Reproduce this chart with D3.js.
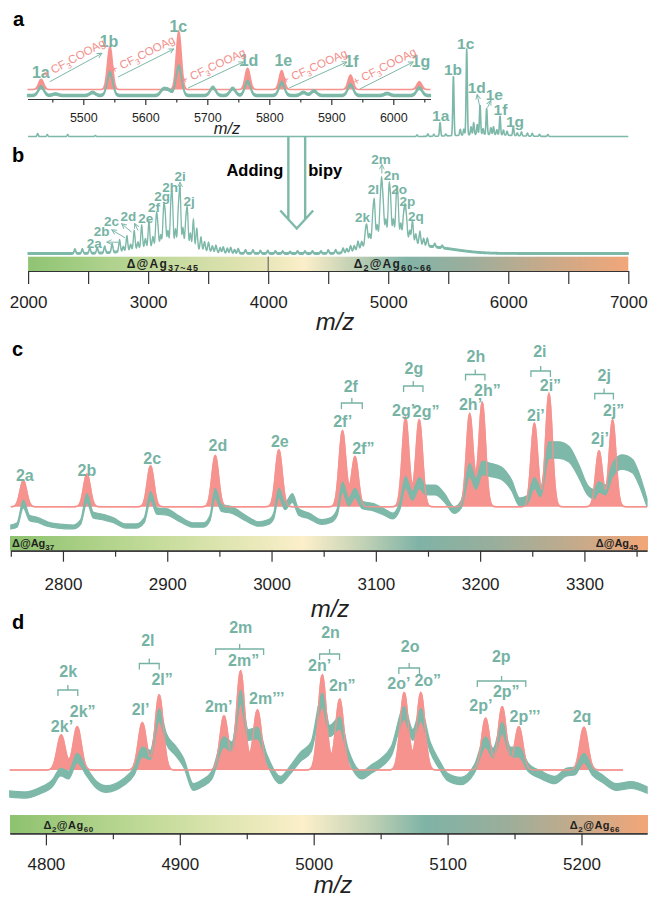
<!DOCTYPE html>
<html>
<head>
<meta charset="utf-8">
<script src="https://cdn.jsdelivr.net/npm/d3@7/dist/d3.min.js"></script>
<style>
  body { margin: 0; background: #fff; }
  svg { display: block; font-family: "Liberation Sans", Arial, sans-serif; }
</style>
</head>
<body>
<svg id="fig" width="649" height="898"></svg>
<script>
// ---- panel a, inset (m/z 5410-6060) : [m/z, height]
const INSET_RED = [[5432, 10.2], [5543, 42.8], [5654, 57.8], [5765, 21.2], [5820, 18.8], [5931, 14.5], [6042, 7.8]];
const INSET_TEAL = [[5432, 8.5], [5455, 1.5], [5515, 3], [5543, 22.5], [5629, 6], [5638, 5], [5654, 28.8], [5709, 8],
  [5741, 7], [5765, 13.8], [5820, 12.5], [5855, 3], [5872, 4.5], [5931, 10.5], [5990, 2], [6042, 7.5]];
const INSET_LABELS = [['1a', 5431.5, 11.5], ['1b', 5541.5, 42.3], ['1c', 5653.2, 57.3], ['1d', 5767.3, 23.2],
  ['1e', 5822.6, 23.2], ['1f', 5932.6, 22.3], ['1g', 6044.4, 22.3]];
// arrows: [from m/z, from h, to m/z, to h]
const INSET_ARROWS = [[5446, 7.8, 5530, 36.2], [5556, 12.5, 5646, 40.5], [5669, 1.5, 5758, 27.5],
  [5832, 1.5, 5925, 27.5], [5946, 0.5, 6032, 27.5]];
const INSET_MAJOR = [5500, 5600, 5700, 5800, 5900, 6000];
const INSET_MINOR = [5450, 5550, 5650, 5750, 5850, 5950, 6050];

// ---- panel a, full spectrum (shares the b axis)
const MAIN_A_PEAKS = [[2080, 3], [2160, 2], [2330, 2], [2560, 1], [5240, 1.5], [5330, 2.5], [5380, 2], [5432, 13.5],
  [5480, 2], [5543, 60], [5600, 6], [5630, 6], [5654, 86], [5690, 8], [5712, 12], [5742, 10], [5765, 29.5],
  [5790, 6], [5820, 26], [5855, 7], [5877, 8], [5905, 5], [5931, 19], [5960, 5], [5990, 4], [6042, 9],
  [6075, 3], [6110, 4], [6160, 3], [6200, 3], [6260, 2], [6330, 2], [5800, 2, 200]];
const MAIN_A_LABELS = [['1a', 5437, 15.5], ['1b', 5540, 62], ['1c', 5645, 88], ['1d', 5737, 44],
  ['1e', 5884, 36.5], ['1f', 5935, 21.5], ['1g', 6056, 9.7]];
const MAIN_A_ARROWS = [[5766, 28, 5741, 42], [5827, 29, 5855, 36]];

// ---- panel b (m/z 2000-7000)
const B_PEAKS = [[2390, 4], [2452, 4], [2514, 5], [2576, 5], [2638, 6], [2700, 8], [2762, 11], [2793, 4], [2823, 14],
  [2854, 5], [2884, 18], [2915, 6], [2946, 22], [2977, 8], [3007, 25], [3040, 9], [3068, 27], [3080, 18], [3105, 10],
  [3129, 34], [3142, 28], [3165, 14], [3190, 38], [3202, 40], [3228, 16], [3252, 34], [3266, 54], [3290, 18],
  [3314, 24], [3327, 34], [3352, 14], [3377, 28], [3405, 20], [3440, 12], [3470, 8], [3503, 8], [3535, 5],
  [3565, 6], [3600, 4], [3626, 5], [3660, 4], [3688, 5], [3720, 3], [3750, 4], [3811, 3], [3873, 3], [3935, 2.5],
  [3997, 2.5], [4060, 2], [4121, 2], [4183, 1.5], [4245, 2], [4307, 2], [4369, 2], [4440, 2], [4500, 3],
  [4562, 3], [4624, 4], [4655, 3], [4686, 5], [4717, 4], [4748, 7], [4779, 5], [4811, 13], [4823, 15], [4845, 8],
  [4872, 24], [4885, 34], [4908, 12], [4933, 26], [4945, 46], [4958, 28], [4980, 14], [5006, 42], [5019, 32],
  [5043, 14], [5068, 34], [5080, 34], [5105, 12], [5128, 20], [5141, 26], [5153, 16], [5180, 9], [5202, 20],
  [5230, 8], [5264, 12], [5295, 6], [5326, 7], [5388, 3], [5450, 2],
  [3150, 8, 230], [5000, 18, 150], [5350, 6, 220]];
const B_LABELS = [['2a', 2551, 5.7], ['2b', 2612, 17.2], ['2c', 2695, 27.2], ['2d', 2835, 33], ['2e', 2981, 30.7],
  ['2f', 3049, 41.3], ['2g', 3116, 53], ['2h', 3183, 61.3], ['2i', 3266, 72.2], ['2j', 3342, 47.2],
  ['2k', 4785, 31.3], ['2l', 4877, 60], ['2m', 4939, 90], ['2n', 5028, 74], ['2o', 5091, 60],
  ['2p', 5160, 47.2], ['2q', 5231, 32.2]];
const B_ARROWS = [[2752, 11.3, 2655, 11.3], [2807, 15.7, 2697, 23.7], [2863, 21.3, 2780, 29.7],
  [2916, 23, 2887, 30], [3266, 63, 3266, 71.3], [4947, 80, 4947, 89]];
const B_TICKS = [2000, 2500, 3000, 3500, 4000, 4500, 5000, 5500, 6000, 6500, 7000];
const B_LABELLED = [2000, 3000, 4000, 5000, 6000, 7000];

// ---- panel c (m/z 2750-3360)
const C_RED = [[2762, 26], [2823, 32.7], [2884, 40.7], [2946, 51], [3007, 56.7], [3068, 75.7], [3080, 50],
  [3128.5, 89], [3141.6, 86.7], [3190, 92.7], [3202, 104], [3252, 83.3], [3266, 112.7], [3314, 55.7], [3327, 86.7]];
const C_TEAL = [[2750, 3], [2756, 5], [2762, 26], [2768, 12], [2776, 10], [2785, 6], [2795, 4], [2810, 3], [2817, 8],
  [2823, 32], [2829, 15], [2838, 13], [2848, 10], [2860, 4], [2870, 4], [2878, 10], [2884, 34], [2890, 19],
  [2900, 18], [2912, 11], [2925, 5], [2935, 5], [2941, 12], [2946, 37], [2952, 22], [2962, 20], [2975, 12],
  [2988, 6], [2997, 8], [3002, 14], [3007, 37], [3013, 24], [3020, 32], [3026, 18], [3036, 14], [3048, 8],
  [3057, 10], [3063, 18], [3068, 43], [3074, 28], [3080, 37], [3087, 25], [3097, 23], [3108, 18], [3116, 14],
  [3123, 24], [3128.5, 48], [3135, 34], [3141.6, 47], [3148, 40], [3157, 40], [3166, 32], [3175, 20], [3182, 26],
  [3190, 60], [3196, 46], [3202, 62], [3210, 60], [3220, 57], [3230, 45], [3238, 28], [3245, 30], [3252, 47],
  [3258, 38], [3266, 80], [3275, 80], [3285, 76], [3295, 58], [3303, 40], [3309, 36], [3314, 43], [3320, 40],
  [3327, 60], [3336, 68], [3346, 64], [3352, 52], [3360, 27]];
const C_LABELS = [['2a', 2763.4, 26.2], ['2b', 2823, 31.2], ['2c', 2885.6, 42.9], ['2d', 2948.6, 56.2],
  ['2e', 3008, 59.5], ['2f', 3076, 114.5], ['2f\u2019', 3068.2, 79.5], ['2f\u201D', 3088, 52.9],
  ['2g', 3136.5, 132.9], ['2g\u2019', 3126.6, 91.2], ['2g\u201D', 3148.3, 89.5],
  ['2h', 3196, 144.5], ['2h\u2019', 3190.8, 97.2], ['2h\u201D', 3207, 111.2],
  ['2i', 3257.3, 149.5], ['2i\u2019', 3253.5, 86.2], ['2i\u201D', 3267.4, 116.2],
  ['2j', 3319, 126.2], ['2j\u2019', 3314.9, 62.9], ['2j\u201D', 3328, 91.2]];
const C_BRACKETS = [[3067, 3087, 103.7], [3126.6, 3145.2, 120.7], [3186, 3204.6, 132.2],
  [3248.7, 3267.4, 135.7], [3309.9, 3327.8, 113.2]];
const C_MAJOR = [2800, 2900, 3000, 3100, 3200, 3300];
const C_MINOR = [2750, 2850, 2950, 3050, 3150, 3250, 3350];

// ---- panel d (m/z 4773-5249)
const D_RED = [[4811.4, 35], [4823.4, 43.3], [4872, 47.3], [4884.6, 75], [4933, 54], [4945.4, 99], [4958, 60],
  [5006.4, 95], [5019.4, 70.7], [5067.6, 77.3], [5080, 77.3], [5128.4, 51.7], [5140.8, 63.3], [5153.2, 43.3],
  [5201.8, 42.7]];
const D_TEAL = [[4773, 3], [4785, 2], [4795, 6], [4805, 14], [4811, 25], [4817, 22], [4823.4, 39], [4830, 26],
  [4838, 12], [4845, 8], [4858, 15], [4866, 26], [4872, 45], [4878, 42], [4884.6, 82], [4890, 58], [4897, 46],
  [4903, 34], [4910, 10], [4917, 14], [4924, 22], [4933, 55], [4939, 50], [4945.4, 100], [4951, 62], [4958, 64],
  [4965, 38], [4975, 17], [4983, 28], [4990, 40], [4998, 50], [5006.4, 97], [5012, 66], [5019.4, 74], [5026, 42],
  [5036, 22], [5043, 28], [5050, 34], [5058, 46], [5067.6, 84], [5074, 62], [5080, 82], [5087, 50], [5094, 32],
  [5100, 20], [5110, 16], [5120, 28], [5128.4, 55], [5134, 44], [5140.8, 69], [5147, 45], [5153.2, 45],
  [5160, 30], [5170, 22], [5180, 17], [5189, 25], [5195, 26], [5201.8, 39], [5208, 26], [5216, 18], [5226, 10],
  [5237, 12], [5249, 7]];
const D_LABELS = [['2k', 4816.7, 93.5], ['2k\u2019', 4812, 37.8], ['2k\u201D', 4827.5, 52.8],
  ['2l', 4876.1, 123.8], ['2l\u2019', 4870.7, 55.2], ['2l\u201D', 4886.8, 85.2],
  ['2m', 4945.5, 137.2], ['2m\u201D', 4947.7, 104.5], ['2m\u2019', 4929.1, 57.8], ['2m\u2019\u2019\u2019', 4964.9, 66.2],
  ['2n', 5012.6, 131.8], ['2n\u2019', 5004.4, 99.5], ['2n\u201D', 5021.3, 79.5],
  ['2o', 5072, 117.8], ['2o\u2019', 5063.6, 81.2], ['2o\u201D', 5085.2, 83.8],
  ['2p', 5140.1, 107.8], ['2p\u2019', 5124.8, 59.5], ['2p\u201D', 5143.8, 72.8], ['2p\u2019\u2019\u2019', 5157.8, 47.8],
  ['2q', 5200.4, 47.8]];
const D_BRACKETS = [[4809, 4823.8, 80], [4869.8, 4884.6, 106.5], [4926.8, 4962.6, 121], [5004.4, 5019.3, 116],
  [5063.6, 5079, 102], [5122.2, 5158.4, 89]];
const D_MAJOR = [4800, 4900, 5000, 5100, 5200];
const D_MINOR = [4850, 4950, 5050, 5150];

const TEAL = '#7db8a9';
const TEAL_TXT = '#76b3a4';
const PINK = '#f6938f';
const PINK_TXT = '#f28e8a';
const INK = '#1f1f1f';

const svg = d3.select('#fig');
const defs = svg.append('defs');

defs.append('marker').attr('id', 'ah').attr('viewBox', '0 0 10 10')
  .attr('refX', 9).attr('refY', 5).attr('markerWidth', 6).attr('markerHeight', 6).attr('orient', 'auto')
  .append('path').attr('d', 'M1,1L9,5L1,9').attr('fill', 'none').attr('stroke', TEAL).attr('stroke-width', 1.6);

// gaussian sum over a peak list, sampled for drawing
function spectrum(peaks, sigma, lo, hi, step) {
  return d3.range(lo, hi + step / 2, step).map(m => [m, d3.sum(peaks, p => {
    const s = p[2] || sigma;
    return p[1] * Math.exp(-((m - p[0]) ** 2) / (2 * s * s));
  })]);
}

function redPeaks(pts, x, y) {
  svg.append('path').datum(pts).attr('fill', PINK)
    .attr('d', d3.area().x(d => x(d[0])).y0(y(0)).y1(d => y(d[1])));
  svg.append('path').datum(pts).attr('fill', 'none').attr('stroke', PINK).attr('stroke-width', 1.6)
    .attr('d', d3.line().x(d => x(d[0])).y(d => y(d[1])));
}

function tealBand(pts, x, y, thick, curve) {
  svg.append('path').datum(pts).attr('fill', TEAL).attr('stroke', TEAL).attr('stroke-width', 1.2)
    .attr('d', d3.area().curve(curve || d3.curveLinear).x(d => x(d[0]))
      .y0(d => y(d[1]) + thick(d[1]) / 2).y1(d => y(d[1]) - thick(d[1]) / 2));
}

function labels(list, x, y, size) {
  svg.append('g').selectAll('text').data(list).join('text')
    .attr('x', d => x(d[1])).attr('y', d => y(d[2])).attr('text-anchor', 'middle')
    .attr('font-size', size).attr('font-weight', 'bold').attr('fill', TEAL_TXT).text(d => d[0]);
}

function brackets(list, x, y) {
  svg.append('g').selectAll('path').data(list).join('path')
    .attr('fill', 'none').attr('stroke', TEAL_TXT).attr('stroke-width', 1.3)
    .attr('d', d => {
      const x1 = x(d[0]), x2 = x(d[1]), yb = y(d[2]), xm = (x1 + x2) / 2;
      return `M${x1},${yb + 6}V${yb}H${x2}V${yb + 6}M${xm},${yb}V${yb - 5}`;
    });
}

function arrows(list, x, y, width) {
  svg.append('g').selectAll('line').data(list).join('line')
    .attr('x1', d => x(d[0])).attr('y1', d => y(d[1])).attr('x2', d => x(d[2])).attr('y2', d => y(d[3]))
    .attr('stroke', TEAL).attr('stroke-width', width).attr('marker-end', 'url(#ah)');
}

function axis(x, y0, major, minor, majLen, minLen, labelY, size) {
  const gMin = svg.append('g').attr('transform', `translate(0,${y0})`)
    .call(d3.axisBottom(x).tickValues(minor).tickSize(minLen).tickSizeOuter(0).tickFormat(''));
  const gMaj = svg.append('g').attr('transform', `translate(0,${y0})`)
    .call(d3.axisBottom(x).tickValues(major).tickSize(majLen).tickSizeOuter(0).tickFormat(d3.format('d')));
  [gMin, gMaj].forEach(g => g.selectAll('line,path').attr('stroke', '#333').attr('stroke-width', 1.2));
  gMaj.selectAll('text').attr('y', labelY).attr('dy', null).attr('font-size', size)
    .attr('font-family', '"Liberation Sans", Arial, sans-serif').attr('fill', INK);
  return gMaj;
}

function rich(x, y, anchor, parts, size, subSize, fill, weight, spacing) {
  const t = svg.append('text').attr('x', x).attr('y', y).attr('text-anchor', anchor)
    .attr('font-size', size).attr('font-weight', weight).attr('fill', fill).attr('letter-spacing', spacing);
  let low = false;
  parts.forEach(([s, sub]) => {
    const dy = sub && !low ? 3 : (!sub && low ? -3 : 0);
    low = !!sub;
    t.append('tspan').attr('dy', dy).attr('font-size', sub ? subSize : size).text(s);
  });
  return t;
}

function gradient(id, stops) {
  const g = defs.append('linearGradient').attr('id', id).attr('x1', 0).attr('x2', 1).attr('y1', 0).attr('y2', 0);
  stops.forEach(([o, c]) => g.append('stop').attr('offset', o).attr('stop-color', c));
}

function panelLetter(ch, x, y) {
  svg.append('text').attr('x', x).attr('y', y).attr('font-size', 20).attr('font-weight', 'bold')
    .attr('fill', '#000').text(ch);
}

function mzTitle(x, y, size) {
  svg.append('text').attr('x', x).attr('y', y).attr('text-anchor', 'middle').attr('font-size', size)
    .attr('font-style', 'italic').attr('fill', INK).text('m/z');
}

// ================= panel a =================
const xi = d3.scaleLinear([5410, 6060], [27.5, 430.5]);
const yiRed = d3.scaleLinear([0, 60], [89.5, 29.5]);
const yiTeal = d3.scaleLinear([0, 60], [95.5, 35.5]);
const xb = d3.scaleLinear([2000, 7000], [28.1, 628.3]);
const ya = d3.scaleLinear([0, 100], [136.5, 36.5]);
const yb = d3.scaleLinear([0, 100], [253.5, 153.5]);

panelLetter('a', 13, 26);

redPeaks(spectrum(INSET_RED, 4, 5410, 6060, 1), xi, yiRed);
tealBand(spectrum(INSET_TEAL, 4.5, 5410, 6060, 1), xi, yiTeal, v => 2.4 + 0.05 * v);
axis(xi, 99, INSET_MAJOR, INSET_MINOR, 6, 3.5, 22.5, 12.5);
mzTitle(227, 134, 16.5);
labels(INSET_LABELS, xi, yiRed, 16);

// "+ CF3COOAg" arrows between neighbouring clusters
arrows(INSET_ARROWS, xi, yiRed, 1);
INSET_ARROWS.forEach(a => {
  const x1 = xi(a[0]), y1 = yiRed(a[1]), x2 = xi(a[2]), y2 = yiRed(a[3]);
  const ang = Math.atan2(y2 - y1, x2 - x1) * 180 / Math.PI;
  rich(0, 0, 'start', [['+ CF', 0], ['3', 1], ['COOAg', 0]], 11.5, 8, PINK_TXT, 'normal', 0)
    .attr('transform', `translate(${x1},${y1}) rotate(${ang}) translate(-3,-5)`);
});

svg.append('path').datum(spectrum(MAIN_A_PEAKS, 5, 2000, 7000, 2)).attr('fill', 'none')
  .attr('stroke', TEAL).attr('stroke-width', 1.6).attr('stroke-linejoin', 'round')
  .attr('d', d3.line().x(d => xb(d[0])).y(d => ya(d[1])));
labels(MAIN_A_LABELS, xb, ya, 15.5);
arrows(MAIN_A_ARROWS, xb, ya, 1);

// ================= panel b =================
panelLetter('b', 12, 162);

// hollow "adding bipy" arrow
const BIG_ARROW = { mz: 4238, shaftHalf: 70, wingHalf: 137, wingH: 43, tipH: 25 };
{
  const cx = xb(BIG_ARROW.mz);
  const sh = xb(BIG_ARROW.mz + BIG_ARROW.shaftHalf) - cx;
  const wh = xb(BIG_ARROW.mz + BIG_ARROW.wingHalf) - cx;
  const wy = yb(BIG_ARROW.wingH), ty = yb(BIG_ARROW.tipH), top = ya(0);
  const sy = wy + (wh - sh) / wh * (ty - wy);
  svg.append('path').attr('fill', 'none').attr('stroke', TEAL).attr('stroke-width', 2.4)
    .attr('d', `M${cx - sh},${top}V${sy}M${cx + sh},${top}V${sy}M${cx - wh},${wy}L${cx},${ty}L${cx + wh},${wy}`);
  svg.append('text').attr('x', cx - 13.5).attr('y', 176).attr('text-anchor', 'end').attr('font-size', 16.5)
    .attr('font-weight', 'bold').attr('fill', '#000').text('Adding');
  svg.append('text').attr('x', cx + 11.5).attr('y', 176).attr('font-size', 16.5)
    .attr('font-weight', 'bold').attr('fill', '#000').text('bipy');
}

tealBand(spectrum(B_PEAKS, 7, 2000, 7000, 1.5), xb, yb, v => 1.6 + 0.02 * v);
labels(B_LABELS, xb, yb, 13.5);
arrows(B_ARROWS, xb, yb, 1);

gradient('gb', [[0, '#8fc473'], [0.18, '#b9d695'], [0.39, '#e6e5b6'], [0.46, '#fcefca'], [0.53, '#c9d4b6'],
  [0.63, '#82b4a7'], [0.73, '#9aae9d'], [0.86, '#c6aa8a'], [1, '#f2a679']]);
svg.append('rect').attr('x', xb(2000)).attr('y', 256.7).attr('width', xb(7000) - xb(2000)).attr('height', 14.3)
  .attr('fill', 'url(#gb)');
svg.append('line').attr('x1', xb(4000)).attr('x2', xb(4000)).attr('y1', 256.7).attr('y2', 271)
  .attr('stroke', '#555').attr('stroke-width', 1);
rich(163, 267.5, 'middle', [['\u0394@Ag', 0], ['37~45', 1]], 12, 9, INK, 'bold', 1.2);
rich(393, 267.5, 'middle', [['\u0394', 0], ['2', 1], ['@Ag', 0], ['60~66', 1]], 12, 9, INK, 'bold', 1.2);
const bAxis = axis(xb, 271, B_TICKS, [], 13, 0, 37, 17);
bAxis.selectAll('text').text(d => B_LABELLED.includes(d) ? d : '');
mzTitle(335, 330, 24);

// ================= panel c =================
const xc = d3.scaleLinear([2750, 3360], [10.8, 647]);
const ycRed = d3.scaleLinear([0, 100], [506.7, 406.7]);
const ycTeal = d3.scaleLinear([0, 100], [530, 430]);

panelLetter('c', 12, 356);
redPeaks(spectrum(C_RED, 3.2, 2750, 3360, 0.5), xc, ycRed);
tealBand(C_TEAL, xc, ycTeal, v => 3.5 + 0.16 * v, d3.curveMonotoneX);
svg.append('path').datum(spectrum(C_RED, 3.2, 2750, 3360, 0.5)).attr('fill', 'none')
  .attr('stroke', PINK).attr('stroke-width', 1.4).attr('opacity', 0.9)
  .attr('d', d3.line().x(d => xc(d[0])).y(d => ycRed(d[1])));
labels(C_LABELS, xc, ycRed, 16);
brackets(C_BRACKETS, xc, ycRed);

gradient('gc', [[0, '#8dc26f'], [0.22, '#c2db98'], [0.46, '#fcefca'], [0.55, '#c4d3b6'], [0.64, '#7fb3a6'],
  [0.76, '#99ae9c'], [0.9, '#c9aa89'], [1, '#f3a677']]);
svg.append('rect').attr('x', 10).attr('y', 536).attr('width', 638).attr('height', 14.7).attr('fill', 'url(#gc)');
rich(12, 547, 'start', [['\u0394@Ag', 0], ['37', 1]], 11, 8, INK, 'bold', 0);
rich(638, 547, 'end', [['\u0394@Ag', 0], ['45', 1]], 11, 8, INK, 'bold', 0);
axis(xc, 550.7, C_MAJOR, C_MINOR, 11, 6, 39.3, 17);
mzTitle(330, 617, 24);

// ================= panel d =================
const xd = d3.scaleLinear([4773, 5249], [9.75, 647.1]);
const ydRed = d3.scaleLinear([0, 100], [770, 670]);
const ydTeal = d3.scaleLinear([0, 100], [797, 697]);

panelLetter('d', 12, 629);
redPeaks(spectrum(D_RED, 3.0, 4773, 5231, 0.5), xd, ydRed);
tealBand(D_TEAL, xd, ydTeal, v => 6 + 0.08 * v, d3.curveMonotoneX);
svg.append('path').datum(spectrum(D_RED, 3.0, 4773, 5231, 0.5)).attr('fill', 'none')
  .attr('stroke', PINK).attr('stroke-width', 1.4).attr('opacity', 0.9)
  .attr('d', d3.line().x(d => xd(d[0])).y(d => ydRed(d[1])));
labels(D_LABELS, xd, ydRed, 16);
brackets(D_BRACKETS, xd, ydRed);

gradient('gd', [[0, '#8dc26f'], [0.22, '#c2db98'], [0.46, '#fcefca'], [0.56, '#c4d3b6'], [0.65, '#7fb3a6'],
  [0.77, '#99ae9c'], [0.9, '#c9aa89'], [1, '#f3a677']]);
svg.append('rect').attr('x', 10).attr('y', 815).attr('width', 638).attr('height', 18.3).attr('fill', 'url(#gd)');
rich(43.5, 829, 'start', [['\u0394', 0], ['2', 1], ['@Ag', 0], ['60', 1]], 11, 8, INK, 'bold', 0.5);
rich(620, 829, 'end', [['\u0394', 0], ['2', 1], ['@Ag', 0], ['66', 1]], 11, 8, INK, 'bold', 0.5);
axis(xd, 833.3, D_MAJOR, D_MINOR, 12, 6, 37, 17);
mzTitle(333, 893, 24);
</script>
</body>
</html>
